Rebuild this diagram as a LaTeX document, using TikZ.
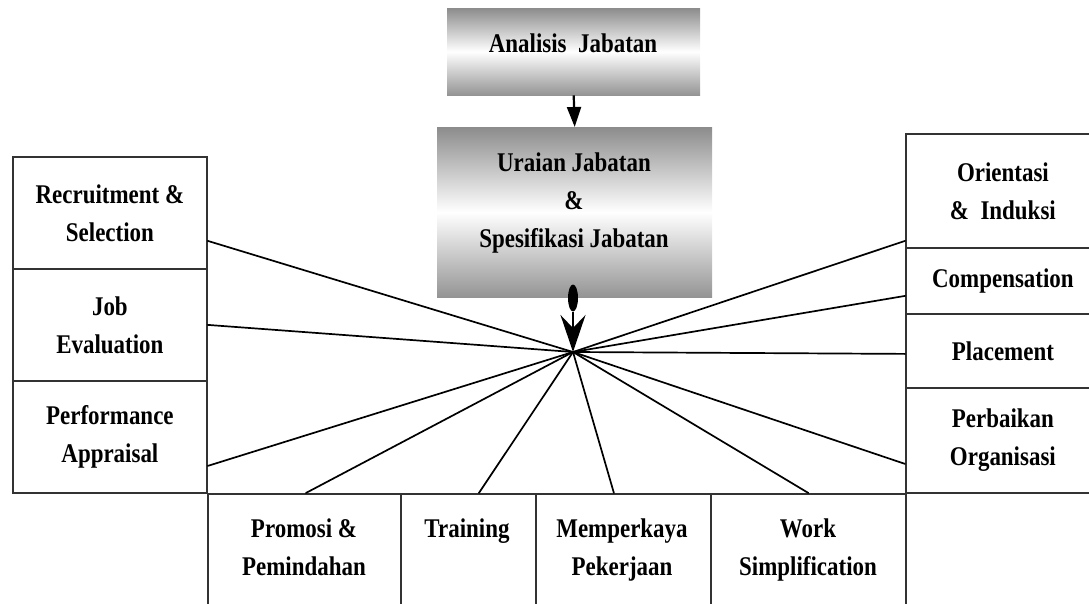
\documentclass[tikz,border=0pt]{standalone}
\usepackage{fontspec}
\setmainfont{Liberation Serif}[FakeStretch=0.85]
\usetikzlibrary{arrows.meta,shapes.geometric}
\begin{document}
\begin{tikzpicture}[x=1pt,y=-1pt,
  lbl/.style={font=\fontsize{27}{38}\selectfont\bfseries, align=center, inner sep=0pt},
  cell/.style={draw=black!80, line width=1.8pt, anchor=north west, inner sep=0pt,
               font=\fontsize{27}{38}\selectfont\bfseries, align=center},
  gbox/.style={anchor=north west, inner sep=0pt, top color=black!45, bottom color=black!42, middle color=white},
  ray/.style={line width=1.7pt, line cap=round},
]
\useasboundingbox (0,0) rectangle (1089,604);
\clip (0,0) rectangle (1089,604);

% gradient boxes
\node[gbox, minimum width=253pt, minimum height=87pt] (ana) at (447,8) {};
\node[gbox, minimum width=275pt, minimum height=170pt] (ura) at (437,127) {};

% left column
\node[cell, minimum width=194pt, minimum height=112pt] (rec) at (12,156) {Recruitment \&\\Selection};
\node[cell, minimum width=194pt, minimum height=112pt] (job) at (12,268) {Job\\Evaluation};
\node[cell, minimum width=194pt, minimum height=112pt] (perf) at (12,380) {Performance\\Appraisal};

% right column
\node[cell, minimum width=194pt, minimum height=114pt] (ori) at (905,133) {Orientasi\\\&\ \ Induksi};
\node[cell, minimum width=194pt, minimum height=66pt] (comp) at (905,247) {Compensation};
\node[cell, minimum width=194pt, minimum height=74pt] (plac) at (905,313) {Placement};
\node[cell, minimum width=194pt, minimum height=105pt] (perb) at (905,387) {Perbaikan\\Organisasi};

% bottom row
\node[cell, minimum width=193pt, minimum height=150pt] (promo) at (207,493) {};
\node[cell, minimum width=135pt, minimum height=150pt] (train) at (400,493) {};
\node[cell, minimum width=175pt, minimum height=150pt] (memp) at (535,493) {};
\node[cell, minimum width=195pt, minimum height=150pt] (work) at (710,493) {};

% hub and arrows
\coordinate (hub) at (573,352);
\draw[line width=2.2pt, -{Triangle[length=20pt,width=14pt]}] (ana.south) -- (ura.north);
\node[ellipse, fill=black, minimum width=10pt, minimum height=27pt, inner sep=0pt] (dot) at (573,298) {};
\draw[line width=2.2pt, -{Stealth[length=37pt,width=25pt,inset=13pt]}] (dot.south) -- (hub);

% rays
\draw[ray] (hub) -- ([yshift=-28pt]rec.east);
\draw[ray] (hub) -- (job.east);
\draw[ray] (hub) -- ([yshift=-29pt]perf.east);
\draw[ray] (hub) -- ([yshift=-50pt]ori.west);
\draw[ray] (hub) -- ([yshift=-15pt]comp.west);
\draw[ray] (hub) -- ([yshift=-3pt]plac.west);
\draw[ray] (hub) -- ([yshift=-23.5pt]perb.west);
\draw[ray] (hub) -- ([xshift=1.5pt]promo.north);
\draw[ray] (hub) -- ([xshift=10.5pt]train.north);
\draw[ray] (hub) -- ([xshift=-9.5pt]memp.north);
\draw[ray] (hub) -- (work.north);

% texts
\node[lbl] (anaT) at (573,43) {Analisis\ \ Jabatan};
\node[lbl] (uraT) at (574,203) {Uraian Jabatan\\\&\\Spesifikasi Jabatan};
\node[lbl] (promoT) at (304,547) {Promosi \&\\Pemindahan};
\node[lbl] (trainT) at (467,531) {Training};
\node[lbl] (mempT) at (622,550) {Memperkaya\\Pekerjaan};
\node[lbl] (workT) at (808,550) {Work\\Simplification};
\end{tikzpicture}
\end{document}
